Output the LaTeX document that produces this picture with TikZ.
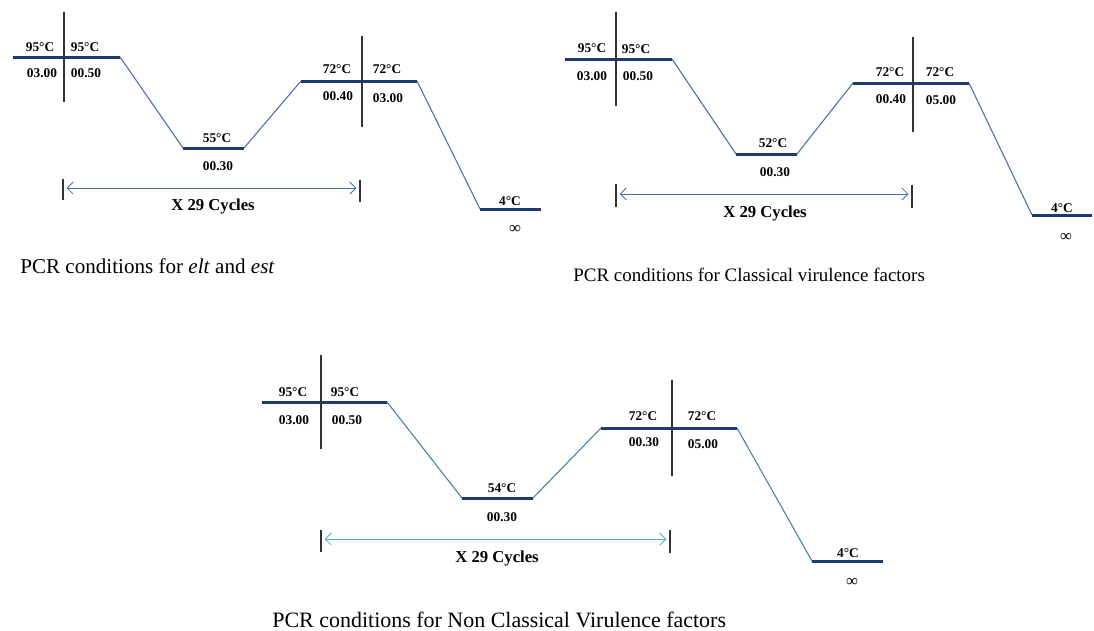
\documentclass[tikz,border=0pt]{standalone}
\usepackage{fontspec}
\setmainfont{Liberation Serif}
\usetikzlibrary{arrows.meta}

\definecolor{holdblue}{RGB}{31,58,112}
\definecolor{rampblue}{RGB}{74,108,175}
\definecolor{rampteal}{RGB}{62,128,170}
\definecolor{arrowteal}{RGB}{92,168,208}

\tikzset{
  hold/.style={draw=holdblue, line width=1.7pt},
  ramp/.style={draw=rampblue, line width=0.6pt},
  split/.style={draw=black!80, line width=0.7pt},
  lab/.style={font=\bfseries\fontsize{7.6}{9}\selectfont, inner sep=0pt},
  cyc/.style={font=\bfseries\fontsize{9.5}{11}\selectfont, inner sep=0pt},
  capt/.style={font=\fontsize{12}{14}\selectfont, anchor=west, inner sep=0pt},
  span/.style={{Straight Barb[length=3.5pt,width=7pt]}-{Straight Barb[length=3.5pt,width=7pt]}, line width=0.5pt, shorten <=2pt, shorten >=2pt}
}

\begin{document}
\begin{tikzpicture}[x=0.02cm,y=-0.02cm]
  \useasboundingbox (0,0) rectangle (1094,630);

  % elt and est
  \coordinate (a1) at (13,57);
  \coordinate (a2) at (120,57);
  \coordinate (a3) at (183,148);
  \coordinate (a4) at (244,148);
  \coordinate (a5) at (301,81);
  \coordinate (a6) at (417,81);
  \coordinate (a7) at (480,209);
  \coordinate (a8) at (541,209);
  \node[lab] (a95l) at (40,47) {95°C};
  \node[lab] (a95r) at (85,47) {95°C};
  \node[lab] (at1) at (42,73) {03.00};
  \node[lab] (at2) at (86,73) {00.50};
  \node[lab] (a55) at (217,138) {55°C};
  \node[lab] (at3) at (218,166) {00.30};
  \node[lab] (a72l) at (337,69) {72°C};
  \node[lab] (a72r) at (387,69) {72°C};
  \node[lab] (at4) at (338,96) {00.40};
  \node[lab] (at5) at (388,98) {03.00};
  \node[lab] (a4c) at (510,201) {4°C};
  \node[lab, font=\fontsize{9.5}{10}\selectfont] (ainf) at (515,229) {∞};
  \draw[ramp] (a2) -- (a3);
  \draw[ramp] (a4) -- (a5);
  \draw[ramp] (a6) -- (a7);
  \draw[hold] (a1) -- (a2);
  \draw[hold] (a3) -- (a4);
  \draw[hold] (a5) -- (a6);
  \draw[hold] (a7) -- (a8);
  \draw[split] (64,12) -- (64,102);
  \draw[split] (362,36) -- (362,127);
  \coordinate (ak1) at (63,188);
  \coordinate (ak2) at (360,188);
  \draw[split] (63,179) -- (63,200);
  \draw[split] (360,180) -- (360,202);
  \draw[span, rampblue] (ak1) -- (ak2);
  \node[cyc] (acyc) at (213,207) {X 29 Cycles};
  \node[capt] (acap) at (20,266) {PCR conditions for \textit{elt} and \textit{est}};

  % classical virulence factors
  \coordinate (b1) at (565,59);
  \coordinate (b2) at (672,59);
  \coordinate (b3) at (736,154);
  \coordinate (b4) at (797,154);
  \coordinate (b5) at (853,83);
  \coordinate (b6) at (969,83);
  \coordinate (b7) at (1032,215);
  \coordinate (b8) at (1092,215);
  \node[lab] (b95l) at (592,48) {95°C};
  \node[lab] (b95r) at (636,49) {95°C};
  \node[lab] (bt1) at (592,76) {03.00};
  \node[lab] (bt2) at (638,76) {00.50};
  \node[lab] (b52) at (773,143) {52°C};
  \node[lab] (bt3) at (775,172) {00.30};
  \node[lab] (b72l) at (890,72) {72°C};
  \node[lab] (b72r) at (940,72) {72°C};
  \node[lab] (bt4) at (891,99) {00.40};
  \node[lab] (bt5) at (941,100) {05.00};
  \node[lab] (b4c) at (1062,208) {4°C};
  \node[lab, font=\fontsize{9.5}{10}\selectfont] (binf) at (1066,237) {∞};
  \draw[ramp] (b2) -- (b3);
  \draw[ramp] (b4) -- (b5);
  \draw[ramp] (b6) -- (b7);
  \draw[hold] (b1) -- (b2);
  \draw[hold] (b3) -- (b4);
  \draw[hold] (b5) -- (b6);
  \draw[hold] (b7) -- (b8);
  \draw[split] (616,12) -- (616,106);
  \draw[split] (913,37) -- (913,132);
  \coordinate (bk1) at (616,194);
  \coordinate (bk2) at (912,194);
  \draw[split] (616,184) -- (616,207);
  \draw[split] (912,185) -- (912,208);
  \draw[span, rampblue] (bk1) -- (bk2);
  \node[cyc] (bcyc) at (765,213) {X 29 Cycles};
  \node[capt, font=\fontsize{10.8}{13}\selectfont] (bcap) at (573,275) {PCR conditions for Classical virulence factors};

  % non classical virulence factors
  \coordinate (c1) at (262,402);
  \coordinate (c2) at (387,402);
  \coordinate (c3) at (462,498);
  \coordinate (c4) at (533,498);
  \coordinate (c5) at (601,428);
  \coordinate (c6) at (737,428);
  \coordinate (c7) at (812,561);
  \coordinate (c8) at (883,561);
  \node[lab] (c95l) at (293,392) {95°C};
  \node[lab] (c95r) at (345,392) {95°C};
  \node[lab] (ct1) at (294,420) {03.00};
  \node[lab] (ct2) at (347,420) {00.50};
  \node[lab] (c54) at (502,488) {54°C};
  \node[lab] (ct3) at (502,517) {00.30};
  \node[lab] (c72l) at (643,416) {72°C};
  \node[lab] (c72r) at (702,416) {72°C};
  \node[lab] (ct4) at (644,442) {00.30};
  \node[lab] (ct5) at (703,444) {05.00};
  \node[lab] (c4c) at (848,553) {4°C};
  \node[lab, font=\fontsize{9.5}{10}\selectfont] (cinf) at (852,582) {∞};
  \draw[ramp, rampteal] (c2) -- (c3);
  \draw[ramp, rampteal] (c4) -- (c5);
  \draw[ramp, rampteal] (c6) -- (c7);
  \draw[hold] (c1) -- (c2);
  \draw[hold] (c3) -- (c4);
  \draw[hold] (c5) -- (c6);
  \draw[hold] (c7) -- (c8);
  \draw[split] (321,355) -- (321,449);
  \draw[split] (672,380) -- (672,476);
  \coordinate (ck1) at (321,539);
  \coordinate (ck2) at (670,539);
  \draw[split] (321,530) -- (321,552);
  \draw[split] (670,530) -- (670,553);
  \draw[span, arrowteal] (ck1) -- (ck2);
  \node[cyc] (ccyc) at (497,558) {X 29 Cycles};
  \node[capt, font=\fontsize{12.5}{15}\selectfont] (ccap) at (272,620) {PCR conditions for Non Classical Virulence factors};
\end{tikzpicture}
\end{document}
